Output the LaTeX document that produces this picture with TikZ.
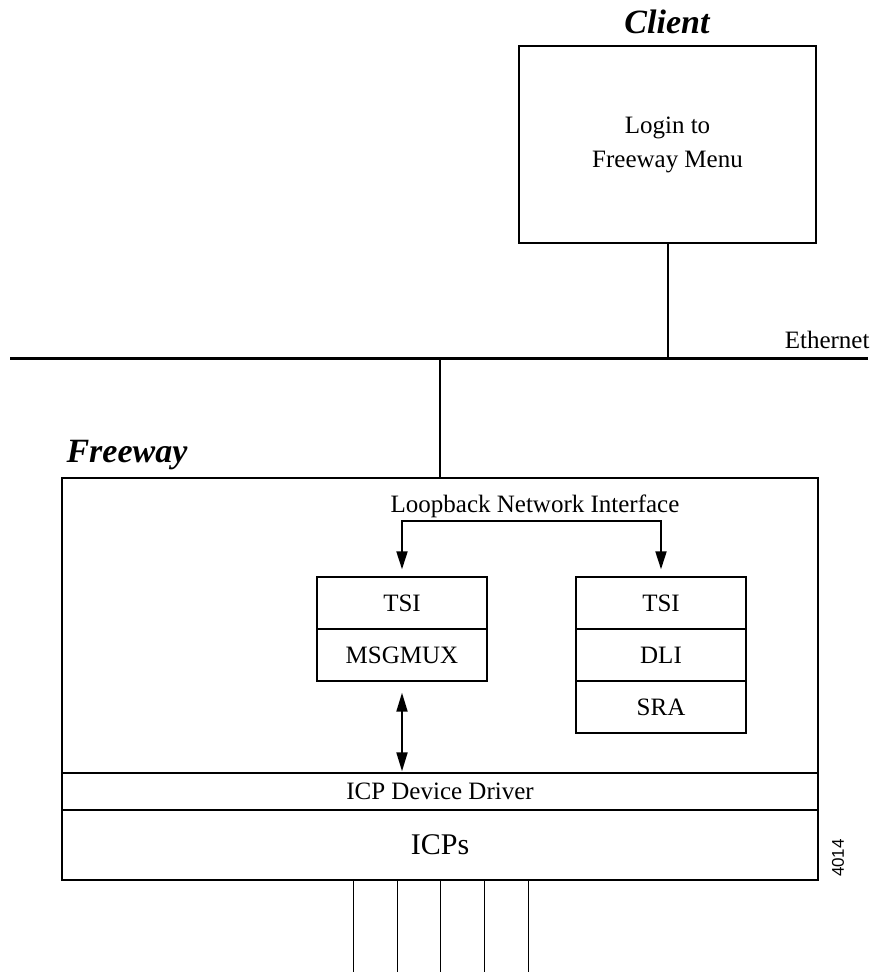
\documentclass[tikz,border=0pt]{standalone}
\usepackage{fontspec}
\setmainfont{Liberation Serif}
\setsansfont{Liberation Sans}
\usetikzlibrary{arrows.meta}
\tikzstyle{box}=[draw=black,line width=1.4pt,inner sep=0pt]
\tikzstyle{cell}=[box,minimum width=170pt,minimum height=52pt,font=\fontsize{25}{30}\selectfont]
\tikzstyle{band}=[box,minimum width=756pt]
\tikzstyle{wire}=[line width=2pt]
\tikzstyle{arr}=[wire,-{Triangle[length=18pt,width=11pt]}]
\tikzstyle{lbl}=[font=\fontsize{25}{34}\selectfont]
\tikzstyle{title}=[font=\fontsize{34}{40}\selectfont\bfseries\itshape]

\begin{document}
\begin{tikzpicture}[x=1pt,y=-1pt]
\useasboundingbox (0,0) rectangle (880,975);
\node[title,anchor=base] (clientlbl) at (667,33) {Client};
\node[box,lbl,align=center,minimum width=297pt,minimum height=197pt] (menu) at (667.5,144.5) {Login to\\Freeway Menu};
\coordinate (ethL) at (10,358);
\coordinate (ethR) at (868,358);
\draw[line width=3pt] (ethL) -- (ethR);
\node[lbl,anchor=base east] (ethlbl) at (873,348) {Ethernet};
\draw[wire] (menu.south) -- (menu.south |- ethL);
\node[title,anchor=base west] (fwylbl) at (63,462) {Freeway};
\node[band,minimum height=295pt] (fwy) at (440,625.5) {};
\draw[wire] (fwy.north) -- (fwy.north |- ethL);
\node[lbl,anchor=base] (loop) at (535,512) {Loopback Network Interface};
\node[cell] (tsiA) at (402,603) {TSI};
\node[cell] (mux) at (402,655) {MSGMUX};
\node[cell] (tsiB) at (661,603) {TSI};
\node[cell] (dli) at (661,655) {DLI};
\node[cell] (sra) at (661,707) {SRA};
\coordinate (bus) at (531,521);
\draw[arr,shorten >=7pt] (bus) -| (tsiA.north);
\draw[arr,shorten >=7pt] (bus) -| (tsiB.north);
\node[band,lbl,minimum height=37pt] (drv) at (440,791.5) {ICP Device Driver};
\node[band,font=\fontsize{30}{36}\selectfont,minimum height=70pt] (icps) at (440,845) {ICPs};
\draw[wire,{Triangle[length=19pt,width=11pt]}-{Triangle[length=19pt,width=11pt]},shorten <=11pt,shorten >=1pt] (mux.south) -- (mux.south |- drv.north);
\foreach \x in {353,397,440,484,528} {
  \coordinate (end\x) at (\x,972);
  \draw[line width=1pt] (icps.south -| end\x) -- (end\x);
}
\node[rotate=90,font=\sffamily\fontsize{17}{20}\selectfont] (code) at (838,858) {4014};
\end{tikzpicture}
\end{document}
